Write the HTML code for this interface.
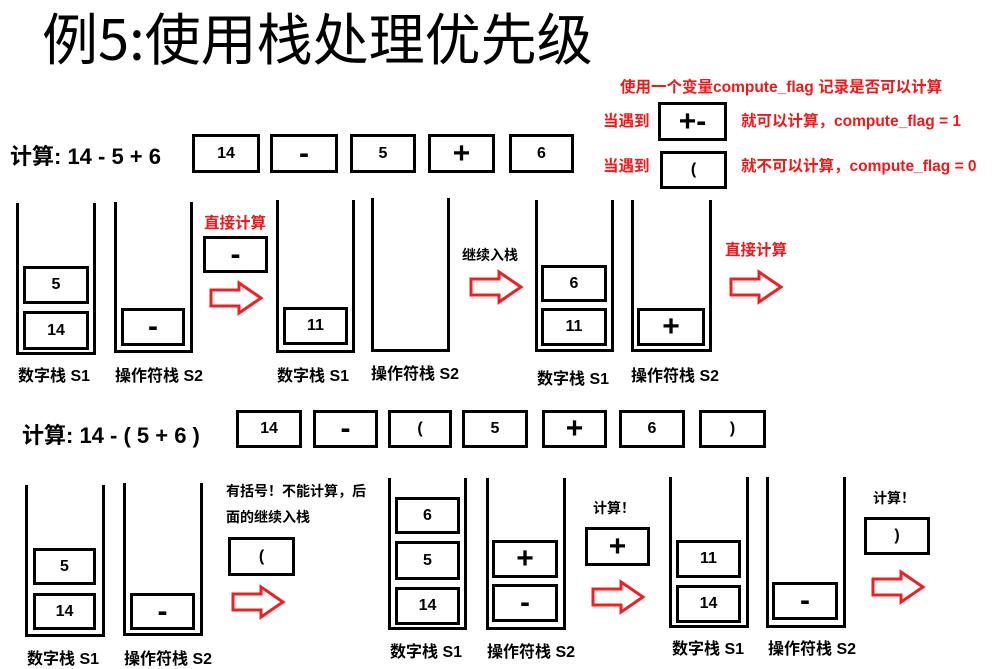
<!DOCTYPE html>
<html><head><meta charset="utf-8"><style>
body{margin:0;width:993px;height:667px;background:#fff;position:relative;overflow:hidden;font-family:"Liberation Sans","Noto Sans CJK SC",sans-serif;}
div{position:absolute;box-sizing:border-box;}
.b{border:3px solid #000;display:flex;align-items:center;justify-content:center;font-weight:bold;font-size:16px;color:#000;}
.op{font-size:30px;}
.s{border:3px solid #000;border-top:none;}
.l{font-weight:bold;font-size:16px;white-space:nowrap;}
.r{color:#f01818;font-weight:bold;font-size:15.5px;white-space:nowrap;}
.k{font-weight:bold;font-size:14px;white-space:nowrap;}
svg{position:absolute;}
</style></head><body>
<div style="left:42px;top:-4px;font-size:56px;white-space:nowrap;font-family:'Noto Sans CJK SC',sans-serif;font-weight:400;">例5:使用栈处理优先级</div>

<div class="r" style="left:620px;top:75px;">使用一个变量compute_flag 记录是否可以计算</div>
<div class="r" style="left:603px;top:109px;">当遇到</div>
<div class="b op" style="left:658px;top:102px;width:69px;height:39px;">+-</div>
<div class="r" style="left:741px;top:109px;">就可以计算，compute_flag = 1</div>
<div class="r" style="left:603px;top:154px;">当遇到</div>
<div class="b" style="left:660px;top:151px;width:67px;height:38px;">(</div>
<div class="r" style="left:741px;top:154px;">就不可以计算，compute_flag = 0</div>

<div class="l" style="left:10px;top:139px;font-size:22px;">计算: 14 - 5 + 6</div>
<div class="b" style="left:192px;top:134px;width:68px;height:39px;">14</div>
<div class="b op" style="left:270px;top:134px;width:68px;height:39px;">-</div>
<div class="b" style="left:350px;top:134px;width:66px;height:39px;">5</div>
<div class="b op" style="left:428px;top:134px;width:67px;height:39px;">+</div>
<div class="b" style="left:509px;top:134px;width:65px;height:39px;">6</div>

<div class="s" style="left:16px;top:203px;width:80px;height:152px;"></div>
<div class="b" style="left:23px;top:266px;width:66px;height:38px;">5</div>
<div class="b" style="left:23px;top:311px;width:66px;height:39px;">14</div>
<div class="l" style="left:18px;top:362px;">数字栈 S1</div>

<div class="s" style="left:114px;top:202px;width:79px;height:151px;"></div>
<div class="b op" style="left:121px;top:308px;width:64px;height:38px;">-</div>
<div class="l" style="left:115px;top:362px;">操作符栈 S2</div>

<div class="r" style="left:204px;top:211px;">直接计算</div>
<div class="b op" style="left:203px;top:236px;width:65px;height:37px;">-</div>

<div class="s" style="left:276px;top:200px;width:79px;height:153px;"></div>
<div class="b" style="left:283px;top:307px;width:65px;height:38px;">11</div>
<div class="l" style="left:277px;top:362px;">数字栈 S1</div>

<div class="s" style="left:371px;top:198px;width:79px;height:154px;"></div>
<div class="l" style="left:371px;top:360px;">操作符栈 S2</div>

<div class="k" style="left:462px;top:245px;">继续入栈</div>

<div class="s" style="left:535px;top:200px;width:79px;height:152px;"></div>
<div class="b" style="left:541px;top:265px;width:66px;height:37px;">6</div>
<div class="b" style="left:541px;top:308px;width:66px;height:38px;">11</div>
<div class="l" style="left:537px;top:365px;">数字栈 S1</div>

<div class="s" style="left:631px;top:200px;width:81px;height:152px;"></div>
<div class="b op" style="left:637px;top:308px;width:68px;height:38px;">+</div>
<div class="l" style="left:631px;top:362px;">操作符栈 S2</div>

<div class="r" style="left:725px;top:238px;">直接计算</div>

<div class="l" style="left:22px;top:418px;font-size:22px;">计算: 14 - ( 5 + 6 )</div>
<div class="b" style="left:236px;top:410px;width:66px;height:38px;">14</div>
<div class="b op" style="left:313px;top:410px;width:65px;height:38px;">-</div>
<div class="b" style="left:388px;top:410px;width:64px;height:38px;">(</div>
<div class="b" style="left:462px;top:410px;width:66px;height:38px;">5</div>
<div class="b op" style="left:542px;top:410px;width:65px;height:38px;">+</div>
<div class="b" style="left:619px;top:410px;width:66px;height:38px;">6</div>
<div class="b" style="left:699px;top:410px;width:67px;height:38px;">)</div>

<div class="s" style="left:25px;top:485px;width:80px;height:152px;"></div>
<div class="b" style="left:33px;top:548px;width:63px;height:37px;">5</div>
<div class="b" style="left:33px;top:593px;width:63px;height:37px;">14</div>
<div class="l" style="left:27px;top:645px;">数字栈 S1</div>

<div class="s" style="left:123px;top:483px;width:80px;height:153px;"></div>
<div class="b op" style="left:130px;top:593px;width:65px;height:37px;">-</div>
<div class="l" style="left:124px;top:645px;">操作符栈 S2</div>

<div class="k" style="left:226px;top:481px;">有括号！不能计算，后</div>
<div class="k" style="left:226px;top:507px;">面的继续入栈</div>
<div class="b" style="left:228px;top:537px;width:67px;height:39px;">(</div>

<div class="s" style="left:388px;top:478px;width:79px;height:152px;"></div>
<div class="b" style="left:395px;top:497px;width:65px;height:37px;">6</div>
<div class="b" style="left:395px;top:541px;width:65px;height:39px;">5</div>
<div class="b" style="left:395px;top:587px;width:65px;height:38px;">14</div>
<div class="l" style="left:390px;top:638px;">数字栈 S1</div>

<div class="s" style="left:486px;top:478px;width:80px;height:152px;"></div>
<div class="b op" style="left:492px;top:540px;width:66px;height:38px;">+</div>
<div class="b op" style="left:492px;top:584px;width:66px;height:38px;">-</div>
<div class="l" style="left:487px;top:638px;">操作符栈 S2</div>

<div class="k" style="left:593px;top:498px;">计算！</div>
<div class="b op" style="left:585px;top:527px;width:65px;height:39px;">+</div>

<div class="s" style="left:669px;top:477px;width:80px;height:151px;"></div>
<div class="b" style="left:676px;top:540px;width:65px;height:38px;">11</div>
<div class="b" style="left:676px;top:585px;width:65px;height:38px;">14</div>
<div class="l" style="left:672px;top:635px;">数字栈 S1</div>

<div class="s" style="left:766px;top:477px;width:80px;height:151px;"></div>
<div class="b op" style="left:772px;top:582px;width:66px;height:38px;">-</div>
<div class="l" style="left:768px;top:635px;">操作符栈 S2</div>

<div class="k" style="left:873px;top:488px;">计算！</div>
<div class="b" style="left:864px;top:517px;width:66px;height:38px;">)</div>

<svg width="993" height="667" style="left:0;top:0;">
<defs><polygon id="ar" points="0,7 28,7 28,0 50,15 28,30 28,23 0,23" fill="#fff" stroke="#f02020" stroke-width="3" stroke-linejoin="miter"/></defs>
<use href="#ar" x="211" y="283"/>
<use href="#ar" x="471" y="272"/>
<use href="#ar" x="731" y="272"/>
<use href="#ar" x="233" y="587"/>
<use href="#ar" x="593" y="582"/>
<use href="#ar" x="873" y="572"/>
</svg>
</body></html>
